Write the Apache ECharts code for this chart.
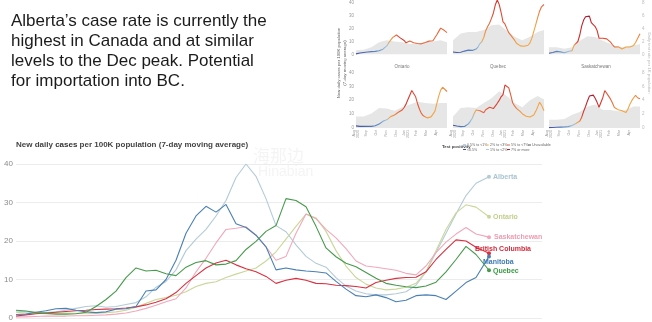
<!DOCTYPE html>
<html><head><meta charset="utf-8">
<script src="https://cdn.jsdelivr.net/npm/echarts@6/dist/echarts.min.js"></script>
<style>html,body{margin:0;padding:0;background:#fff}#c{width:652px;height:322px}</style>
</head><body><div id="c"></div>
<script>
// ---------- DATA ----------
const xIdx = [0,1,2,3,4,5,6,7,8,9,10,11,12,13,14,15,16,17,18,19,20,21,22,23,24,25,26,27,28,29,30,31,32,33,34,35,36,37,38,39,40,41,42,43,44,45,46,47.3];
const alberta = [1.8,1.6,1.5,1.4,1.6,2.0,2.5,3.0,3.2,2.8,3.0,3.5,4.0,5.5,8.0,9.5,12.5,
  17.5,20.5,23.0,26.5,30.5,36.5,40.0,36.8,31.0,24.0,22.4,19.0,16.0,14.2,13.2,
  10.5,8.3,7.0,6.3,6.0,6.0,6.3,6.8,8.5,12.0,17.0,22.0,27.0,31.8,35.0,36.7];
const ontario = [1.5,1.3,1.2,1.1,1.2,1.3,1.2,1.1,1.2,1.4,1.6,2.0,2.8,3.8,4.8,5.3,5.9,
  6.8,8.2,9.0,9.4,10.5,11.4,12.2,13.0,14.8,17.2,20.5,23.8,27.0,26.0,22.5,
  17.5,13.5,10.5,8.8,7.8,7.3,7.5,8.0,9.0,12.0,17.5,23.0,27.3,29.4,28.8,26.3];
const saskatchewan = [0.3,0.3,0.4,0.5,0.5,0.5,0.6,0.6,0.7,0.8,1.0,1.3,1.8,2.5,3.3,4.2,5.0,
  7.8,12.0,15.5,19.5,23.0,23.3,23.7,21.5,18.5,15.0,16.0,22.0,27.0,25.8,23.0,
  20.8,18.0,14.8,13.5,13.2,12.8,12.4,11.6,11.2,13.5,17.0,19.7,21.8,23.5,21.8,21.0];
const britishColumbia = [0.5,0.8,1.1,1.3,1.5,1.7,1.9,2.0,2.2,2.3,2.4,2.6,2.9,3.4,4.1,5.0,6.6,
  9.0,11.0,13.0,14.3,15.0,13.8,12.8,12.0,10.8,9.0,9.8,10.3,9.8,9.0,8.9,
  8.5,8.4,8.2,7.8,9.2,9.8,10.3,10.5,10.6,12.0,15.2,17.8,20.3,20.0,18.4,16.8];
const manitoba = [0.9,1.0,1.5,1.9,2.4,2.5,2.0,1.6,1.4,1.6,2.3,2.4,3.0,7.0,7.3,10.0,15.0,
  22.0,26.5,29.0,27.5,29.5,24.5,23.5,21.5,18.5,12.5,13.0,12.5,12.2,12.0,11.7,
  9.5,7.5,5.8,5.5,6.0,5.3,4.2,4.6,5.8,6.0,5.8,4.8,7.0,9.2,10.5,16.0];
const quebec = [2.0,1.8,1.4,1.2,1.0,1.0,1.1,1.5,3.0,4.8,7.0,10.5,13.0,12.2,12.4,11.5,11.0,
  13.2,14.4,14.9,13.8,14.0,14.9,17.8,19.9,22.5,24.0,31.0,30.5,28.9,23.8,18.2,
  15.9,14.2,13.3,11.8,10.3,9.0,8.5,8.1,7.9,8.3,9.3,12.0,15.2,18.6,16.5,12.4];

const provinceNames = ['Alberta','Ontario','Saskatchewan','British Columbia','Manitoba','Quebec'];
const yTicks = [0,10,20,30,40];

// inset: daily test rate per 1K population (grey area)
const testX  = [0,4,8,12,16,20,24,28,32,36,40,44,47.3];
const testBC = [0.65,0.75,1.1,1.9,2.2,2.0,1.9,1.6,1.7,1.9,2.0,2.2,1.9];
const testAB = [2.1,3.1,3.3,3.3,3.6,4.3,4.4,3.5,2.6,2.1,2.6,3.3,3.6];
const testMB = [1.1,1.1,0.9,1.1,2.1,2.8,2.7,2.1,1.6,1.1,1.2,1.4,1.6];
const testON = [1.65,1.65,2.1,2.9,2.8,2.5,3.0,3.4,3.8,3.6,3.5,3.6,3.6];
const testQC = [1.65,2.9,3.0,2.9,3.6,4.3,5.3,4.6,3.6,3.0,4.0,4.6,4.1];
const testSK = [1.2,1.2,1.3,1.9,2.3,3.1,3.4,2.6,2.6,2.4,2.6,3.1,3.1];
const insetTitles = ['', '', '', 'Ontario', 'Quebec', 'Saskatchewan'];
const insetTicks = ['Aug\n2020','Sep','Oct','Nov','Dec','Jan\n2021','Feb','Mar','Apr'];
const posRow1 = ['0.5% to <1%','2% to <3%','5% to <7%','Unavailable'];
const posRow2 = ['<0.5%','1% to <2%','7% or more'];

// ---------- STYLE ----------
const FONT = '"Liberation Sans", Arial, sans-serif';
const mainColors = ['#b3cbd7','#cad79a','#f1a8ba','#da3040','#4a80b4','#479a4c'];
const labelColors = ['#a9c4d2','#c2cf8a','#ee9cb1','#d22a3b','#3f7ab3','#3a9a44'];
const labelOffsets = [[0,0],[0,0],[1,0],[-18,-4],[-10,6],[0,1]];
const mainData = [alberta, ontario, saskatchewan, britishColumbia, manitoba, quebec];

const N='#3b4a9e', B='#5b8cc6', L='#9cc3e0', O='#f2a444', R='#e8673c', D='#d7312b', K='#a3152f';
function grad(stops){return {type:'linear',x:0,y:0,x2:1,y2:0,colorStops:stops.map(s=>({offset:s[0],color:s[1]}))};}
const insetGrads = [
  grad([[0,N],[0.25,B],[0.34,L],[0.38,O],[0.44,R],[0.5,D],[0.6,R],[1,R]]),
  grad([[0,N],[0.24,B],[0.3,L],[0.34,O],[0.4,R],[0.48,D],[0.6,R],[0.7,O],[0.88,O],[0.95,R],[1,R]]),
  grad([[0,N],[0.12,B],[0.24,L],[0.28,O],[0.33,D],[0.42,K],[0.5,D],[0.7,R],[0.78,O],[0.92,O],[1,R]]),
  grad([[0,N],[0.28,B],[0.34,L],[0.38,O],[0.48,R],[0.55,D],[0.72,R],[0.78,O],[0.9,O],[1,R]]),
  grad([[0,N],[0.16,B],[0.22,L],[0.26,O],[0.32,R],[0.55,D],[0.65,R],[0.75,O],[0.95,O],[1,O]]),
  grad([[0,N],[0.2,B],[0.28,L],[0.33,O],[0.38,D],[0.46,K],[0.55,D],[0.68,R],[0.74,O],[0.88,O],[1,R]])
];
const insetCases = [britishColumbia, alberta, manitoba, ontario, quebec, saskatchewan];
const insetTests = [testBC, testAB, testMB, testON, testQC, testSK];
const colLeft = [356, 453, 549];
const rowTop = [-1, 72.5];

// ---------- BUILD ----------
const grids = [{left:16, right:110, top:164, bottom:0}];
const xAxes = [{gridIndex:0, type:'value', min:0, max:52.6, show:false}];
const yAxes = [{gridIndex:0, type:'value', min:yTicks[0], max:yTicks[yTicks.length-1], interval:10,
  axisLine:{show:false}, axisTick:{show:false},
  axisLabel:{fontSize:8, color:'#8a8a8a', margin:3, fontFamily:FONT},
  splitLine:{lineStyle:{color:'#ececec', width:1}}}];
const series = [];

mainData.forEach((arr, s) => {
  const last = arr.length - 1;
  series.push({
    type:'line', name:provinceNames[s], xAxisIndex:0, yAxisIndex:0,
    data: arr.map((v,i)=>[xIdx[i], v]),
    symbol:'circle', showSymbol:true,
    symbolSize:(v,p)=> p.dataIndex===last ? 4 : 0,
    itemStyle:{color:mainColors[s]},
    lineStyle:{color:mainColors[s], width:1.1},
    z: s>=3 ? 3 : 2,
    endLabel:{show:true, formatter:'{a}', fontSize:7, fontWeight:'bold', color:labelColors[s],
      fontFamily:FONT, offset:labelOffsets[s], distance:4},
    silent:true
  });
});

for (let p=0; p<6; p++) {
  const row = Math.floor(p/3), col = p%3;
  grids.push({left:colLeft[col], width:91, top:rowTop[row], height:55.5});
  xAxes.push({gridIndex:p+1, type:'value', min:0, max:47.3, interval:5.2,
    axisLine:{show:false}, axisTick:{show:false}, splitLine:{show:false},
    axisLabel:{show:row===1, rotate:90, fontSize:3.6, color:'#999', margin:2, lineHeight:4,
      fontFamily:FONT, formatter:(v)=> insetTicks[Math.round(v/5.2)] || ''}});
  yAxes.push({gridIndex:p+1, type:'value', min:0, max:40, interval:10,
    axisLine:{show:false}, axisTick:{show:false}, splitLine:{show:false},
    axisLabel:{show:col===0, fontSize:4.5, color:'#999', margin:2, fontFamily:FONT}});
  yAxes.push({gridIndex:p+1, type:'value', position:'right', min:0, max:8, interval:2,
    axisLine:{show:false}, axisTick:{show:false}, splitLine:{show:false},
    axisLabel:{show:col===2, fontSize:4.5, color:'#bbb', margin:2, fontFamily:FONT}});
  series.push({type:'line', xAxisIndex:p+1, yAxisIndex:2+2*p,
    data: insetTests[p].map((v,i)=>[testX[i], v]),
    symbol:'none', lineStyle:{width:0}, areaStyle:{color:'#e6e6e6', opacity:1}, silent:true, z:1});
  series.push({type:'line', xAxisIndex:p+1, yAxisIndex:1+2*p,
    data: insetCases[p].map((v,i)=>[xIdx[i], v]),
    symbol:'none', lineStyle:{width:1.1, color:insetGrads[p]}, silent:true, z:2});
}

const graphic = [
  {type:'text', left:253, top:147, z:50, style:{text:'海那边', fontSize:17, fontFamily:'"Noto Sans CJK SC"', fill:'rgba(205,205,205,0.22)'}},
  {type:'text', left:258, top:165, z:50, style:{text:'Hinabian', fontSize:14, fontFamily:FONT, fill:'rgba(205,205,205,0.22)'}},
  {type:'text', x:342, y:63, rotation:Math.PI/2, z:10,
    style:{text:'New daily cases per 100K population\n(7-day moving average)', fontSize:4.3, fontFamily:FONT, fill:'#666', align:'center', verticalAlign:'middle', textAlign:'center', textVerticalAlign:'middle', lineHeight:6}},
  {type:'text', x:649, y:63, rotation:-Math.PI/2, z:10,
    style:{text:'Daily test rate per 1K population', fontSize:4.3, fontFamily:FONT, fill:'#bbb', align:'center', verticalAlign:'middle', textAlign:'center', textVerticalAlign:'middle'}},
  {type:'text', x:442, y:147, z:10,
    style:{text:'Test positivity', fontSize:4.3, fontWeight:'bold', fontFamily:FONT, fill:'#444', verticalAlign:'middle', textVerticalAlign:'middle'}}
];
[[402,67],[498,67],[596,67]].forEach((pt,k)=>{
  graphic.push({type:'text', x:pt[0], y:pt[1], z:10,
    style:{text:insetTitles[3+k], fontSize:4.5, fontFamily:FONT, fill:'#777', align:'center', textAlign:'center', verticalAlign:'middle', textVerticalAlign:'middle'}});
});
const row1X = [463, 486, 507, 528], row2X = [463, 486, 507];
const row1C = ['#6f9fd0','#f6c26a','#e8673c','#555'], row2C = ['#3b4a9e','#a9cde6','#b01c30'];
posRow1.forEach((t,k)=>{
  graphic.push({type:'line', z:10, shape:{x1:row1X[k], y1:145, x2:row1X[k]+3, y2:145}, style:{stroke:row1C[k], lineWidth:1}});
  graphic.push({type:'text', x:row1X[k]+4, y:145, z:10, style:{text:t, fontSize:3.6, fontFamily:FONT, fill:'#666', verticalAlign:'middle', textVerticalAlign:'middle'}});
});
posRow2.forEach((t,k)=>{
  graphic.push({type:'line', z:10, shape:{x1:row2X[k], y1:149.5, x2:row2X[k]+3, y2:149.5}, style:{stroke:row2C[k], lineWidth:1}});
  graphic.push({type:'text', x:row2X[k]+4, y:149.5, z:10, style:{text:t, fontSize:3.6, fontFamily:FONT, fill:'#666', verticalAlign:'middle', textVerticalAlign:'middle'}});
});

const chart = echarts.init(document.getElementById('c'), null, {renderer:'canvas'});
chart.setOption({
  animation:false,
  backgroundColor:'#ffffff',
  textStyle:{fontFamily:FONT},
  title:[
    {text:'Alberta’s case rate is currently the\nhighest in Canada and at similar\nlevels to the Dec peak. Potential\nfor importation into BC.',
     left:11, top:11, padding:0,
     textStyle:{fontSize:17, lineHeight:20, fontWeight:'normal', color:'#1b1b1b', fontFamily:FONT}},
    {text:'{a|New daily }{b|cases}{a| per 100K population (7-day moving average)}',
     left:16, top:141, padding:0,
     textStyle:{rich:{a:{fontSize:8, color:'#444', fontFamily:FONT}, b:{fontSize:8, color:'#333', fontWeight:'bold', fontFamily:FONT}}}}
  ],
  grid:grids, xAxis:xAxes, yAxis:yAxes, series:series, graphic:graphic
});
</script></body></html>
